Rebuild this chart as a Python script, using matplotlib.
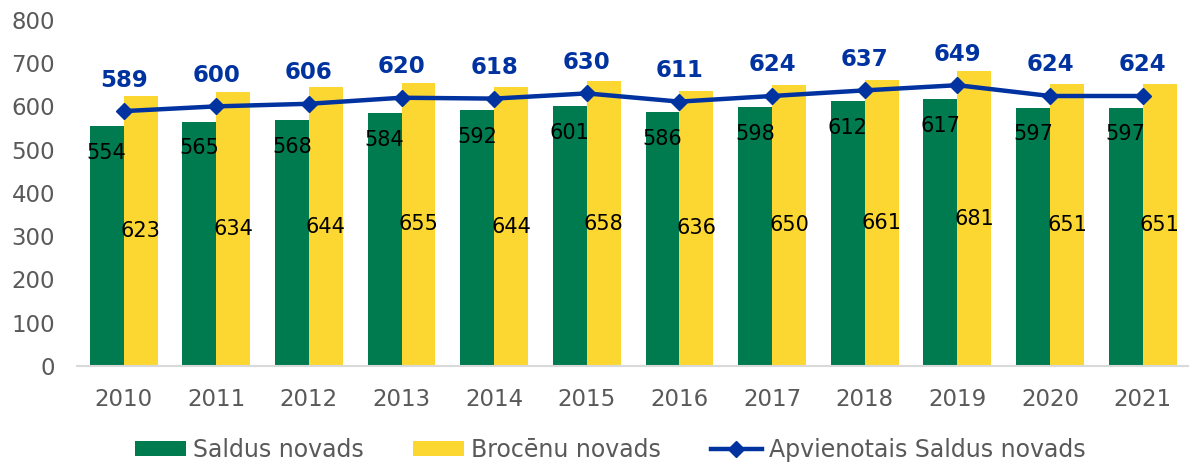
import matplotlib.pyplot as plt
import numpy as np

years = ["2010", "2011", "2012", "2013", "2014", "2015", "2016", "2017", "2018", "2019", "2020", "2021"]
saldus = [554, 565, 568, 584, 592, 601, 586, 598, 612, 617, 597, 597]
broceni = [623, 634, 644, 655, 644, 658, 636, 650, 661, 681, 651, 651]
apvienotais = [589, 600, 606, 620, 618, 630, 611, 624, 637, 649, 624, 624]

green = "#007A4F"
yellow = "#FDD731"
blue = "#0033A0"
grey = "#595959"

fig = plt.figure(figsize=(11.89, 4.63), dpi=100)
ax = fig.add_axes([0.065, 0.21, 0.935, 0.747])

x = np.arange(len(years))
w = 0.366
b1 = ax.bar(x - w / 2, saldus, w, color=green, label="Saldus novads")
b2 = ax.bar(x + w / 2, broceni, w, color=yellow, label="Brocēnu novads")
ln, = ax.plot(x, apvienotais, color=blue, lw=3.2, marker="D", ms=8.5,
              label="Apvienotais Saldus novads")

# data labels
for i in range(len(years)):
    ax.text(x[i] - w / 2, saldus[i] - 62, str(saldus[i]), ha="center", va="center",
            fontsize=15, color="black")
    ax.text(x[i] + w / 2, broceni[i] / 2, str(broceni[i]), ha="center", va="center",
            fontsize=15, color="black")
    ax.text(x[i], apvienotais[i] + 72, str(apvienotais[i]), ha="center", va="center",
            fontsize=16.5, fontweight="bold", color=blue)

ax.set_xlim(-0.5, 11.5)
ax.set_ylim(0, 800)
ax.set_yticks(range(0, 801, 100))
ax.set_xticks(x)
ax.set_xticklabels(years)
ax.tick_params(axis="both", length=0, labelsize=16.5, labelcolor=grey)
ax.tick_params(axis="x", pad=16)
ax.tick_params(axis="y", pad=16)
for s in ["top", "right", "left"]:
    ax.spines[s].set_visible(False)
ax.spines["bottom"].set_color("#D9D9D9")
ax.spines["bottom"].set_linewidth(1.5)

leg = fig.legend(handles=[b1, b2, ln], loc="center", bbox_to_anchor=(0.513, 0.028),
                 ncol=3, frameon=False, fontsize=17, handlelength=2.16,
                 handleheight=0.6, columnspacing=2.1, handletextpad=0.3)
for t in leg.get_texts():
    t.set_color(grey)

fig.savefig("out.png", dpi=100)
